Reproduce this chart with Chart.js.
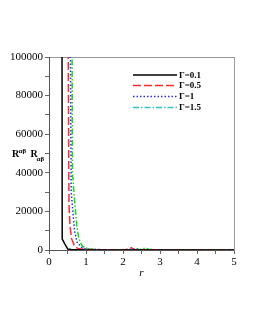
<!DOCTYPE html>
<html><head><meta charset="utf-8">
<script src="https://cdn.jsdelivr.net/npm/chart.js@4"></script>
<style>html,body{margin:0;padding:0;background:#fff}</style>
</head><body>
<canvas id="c" width="255" height="330" style="width:255px;height:330px;display:block"></canvas>
<script>
// ---- data ----
const seriesLabels = ['Γ=0.1', 'Γ=0.5', 'Γ=1', 'Γ=1.5'];
const xTickLabels = ['0', '1', '2', '3', '4', '5'];
const yTickLabels = ['0', '20000', '40000', '60000', '80000', '100000'];

const rG01 = [0.35, 0.357, 0.43, 0.508, 0.6, 0.8, 1.0, 1.5, 2.0, 2.5, 3.0, 3.5, 4.0, 4.5, 5.0];
const vG01 = [150000, 5700, 3000, 500, 200, 100, 60, 40, 30, 30, 20, 20, 10, 10, 10];

const rG05 = [0.51, 0.52, 0.54, 0.567, 0.608, 0.69, 0.8, 1.0, 1.5, 2.0, 2.15, 2.22, 2.3, 2.5, 3.0, 3.5, 4.0, 4.5, 5.0];
const vG05 = [200000, 100000, 24000, 13000, 6000, 2000, 600, 250, 100, 80, 300, 1200, 300, 80, 60, 50, 40, 30, 30];

const rG1 = [0.57, 0.58, 0.6, 0.69, 0.76, 0.9, 1.1, 1.5, 2.0, 2.35, 2.5, 3.0, 3.5, 4.0, 4.5, 5.0];
const vG1 = [200000, 100000, 30000, 10000, 4000, 1000, 300, 150, 100, 600, 100, 80, 60, 50, 40, 40];

const rG15 = [0.615, 0.625, 0.635, 0.69, 0.75, 0.805, 0.9, 1.05, 1.3, 2.0, 2.5, 2.6, 2.7, 3.0, 3.5, 4.0, 4.5, 5.0];
const vG15 = [200000, 100000, 40000, 26000, 13000, 6000, 2000, 600, 200, 100, 300, 1000, 300, 80, 60, 50, 40, 40];

// ---- build ----
const pts = (r, v) => r.map((x, i) => ({x: x, y: v[i]}));
const lineColors = ['#000000', '#ff2a2a', '#2a2aff', '#10e010'];
const legendColors = ['#000000', '#ff2a2a', '#2a2aff', '#33c4c4'];
const dashes = [[], [8, 3], [1.5, 2], [6, 2, 1.5, 2]];
const serData = [pts(rG01, vG01), pts(rG05, vG05), pts(rG1, vG1), pts(rG15, vG15)];

const datasets = serData.map((d, i) => ({
  label: seriesLabels[i], data: d, borderColor: lineColors[i], backgroundColor: lineColors[i],
  borderWidth: 1.5, borderDash: dashes[i], pointRadius: 0, fill: false, tension: 0
}));

const serif = '"Liberation Serif", "Times New Roman", serif';

const extras = {
  id: 'extras',
  afterDraw(chart) {
    const ctx = chart.ctx;
    ctx.save();
    // legend
    const rows = [75, 85.5, 96.5, 107.5];
    for (let i = 0; i < 4; i++) {
      ctx.beginPath();
      ctx.strokeStyle = legendColors[i];
      ctx.lineWidth = 1.5;
      ctx.setLineDash(dashes[i]);
      ctx.moveTo(133, rows[i]);
      ctx.lineTo(177, rows[i]);
      ctx.stroke();
      ctx.setLineDash([]);
      ctx.fillStyle = '#000';
      ctx.font = 'bold 9px ' + serif;
      ctx.textBaseline = 'middle';
      ctx.textAlign = 'left';
      ctx.fillText(seriesLabels[i], 179, rows[i] + 0.5);
    }
    // y axis label R^{αβ} R_{αβ}
    ctx.fillStyle = '#000';
    ctx.textBaseline = 'alphabetic';
    ctx.font = 'bold 10px ' + serif;
    ctx.fillText('R', 12, 157);
    ctx.font = 'bold 7px ' + serif;
    ctx.fillText('αβ', 18.5, 152.5);
    ctx.font = 'bold 10px ' + serif;
    ctx.fillText('R', 30.5, 157);
    ctx.font = 'bold 7px ' + serif;
    ctx.fillText('αβ', 36.5, 160.5);
    ctx.restore();
  }
};

new Chart(document.getElementById('c'), {
  type: 'line',
  data: { datasets: datasets },
  options: {
    responsive: false, animation: false, devicePixelRatio: 1,
    layout: { padding: { top: 57, right: 21, left: 0, bottom: 50 } },
    plugins: { legend: { display: false }, tooltip: { enabled: false } },
    scales: {
      x: {
        type: 'linear', position: 'bottom', min: 0, max: 5,
        afterFit: s => { s.height = 30; },
        ticks: {
          stepSize: 0.5, autoSkip: false, maxRotation: 0, padding: 2, color: '#000',
          font: { family: serif, size: 11 },
          callback: v => Number.isInteger(v) ? xTickLabels[v] : ''
        },
        grid: { display: true, drawOnChartArea: false, drawTicks: true, tickLength: 4, color: '#666' },
        border: { display: true, color: '#555', width: 1 },
        title: { display: true, text: 'r', color: '#000', padding: { top: 0, bottom: 0 },
                 font: { family: serif, size: 11, style: 'italic' } }
      },
      xTop: {
        type: 'linear', position: 'top', min: 0, max: 5,
        afterFit: s => { s.height = 0; },
        ticks: { display: false }, grid: { display: false },
        border: { display: true, color: '#999', width: 1 }
      },
      y: {
        type: 'linear', position: 'left', min: 0, max: 100000,
        afterFit: s => { s.width = 49; },
        ticks: {
          stepSize: 10000, autoSkip: false, padding: 2, color: '#000',
          font: { family: serif, size: 11 },
          callback: v => (v % 20000 === 0) ? yTickLabels[v / 20000] : ''
        },
        grid: { display: true, drawOnChartArea: false, drawTicks: true, tickLength: 4, color: '#666' },
        border: { display: true, color: '#555', width: 1 }
      },
      yRight: {
        type: 'linear', position: 'right', min: 0, max: 100000,
        afterFit: s => { s.width = 0; },
        ticks: { display: false }, grid: { display: false },
        border: { display: true, color: '#999', width: 1 }
      }
    }
  },
  plugins: [extras]
});
</script>
</body></html>
